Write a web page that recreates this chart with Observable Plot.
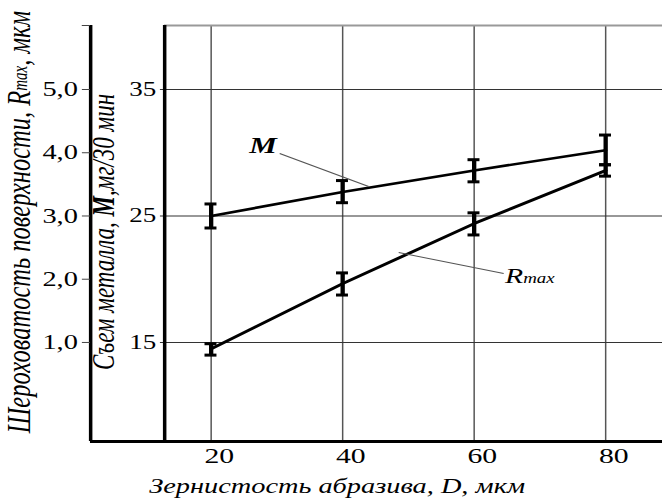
<!DOCTYPE html>
<html><head><meta charset="utf-8">
<script src="https://cdn.jsdelivr.net/npm/d3@7"></script>
<script src="https://cdn.jsdelivr.net/npm/@observablehq/plot@0.6"></script>
<style>html,body{margin:0;padding:0;background:#fff;overflow:hidden}</style>
</head><body><div id="chart"></div>
<script>
// ---- data ----
const grainSizes = [20, 40, 60, 80];                 // D, мкм
const removal = [25.0, 26.9, 28.6, 30.2];            // M, мг/30 мин
const removalLow = [24.05, 26.05, 27.7, 29.05];
const removalHigh = [25.95, 27.8, 29.45, 31.4];
const roughness = [0.9, 1.93, 2.88, 3.72];           // Rmax, мкм
const roughnessLow = [0.8, 1.75, 2.7, 3.63];
const roughnessHigh = [0.98, 2.1, 3.05, 3.81];
const xTicks = [20, 40, 60, 80];
const removalTicks = [15, 25, 35];
const roughnessTicks = [1, 2, 3, 4, 5];

// Rmax axis is aligned with M axis: R=1 <-> M=15, R=5 <-> M=35
const rToM = r => 15 + 5 * (r - 1);
const mToR = m => 1 + (m - 15) / 5;

// scale extents / layout
const xDomain = [1.673, 88.67];
const yDomain = [7.17, 40.06];
const innerAxisAt = 12.93;
const capHalf = 0.91;
const W = 490, H = 500, OUT_W = 662;
const serif = "'Liberation Serif','Times New Roman',serif";

const removalRows = grainSizes.map((x, i) => ({x, y: removal[i], lo: removalLow[i], hi: removalHigh[i]}));
const roughRows = grainSizes.map((x, i) => ({x, y: rToM(roughness[i]), lo: rToM(roughnessLow[i]), hi: rToM(roughnessHigh[i])}));
const errRows = removalRows.concat(roughRows);

const leaders = [
  {x1: 30.42, y1: 29.94, x2: 43.95, y2: 27.33},
  {x1: 48.52, y1: 22.11, x2: 64.49, y2: 20.45}
];

const fmtR = m => d3.format(".1f")(mToR(m)).replace(".", ",");

const plot = Plot.plot({
  width: W, height: H,
  marginLeft: 66.6, marginRight: 0, marginTop: 25, marginBottom: 59,
  style: {fontFamily: serif, background: "#fff", color: "#000", overflow: "visible"},
  x: {domain: xDomain, axis: null},
  y: {domain: yDomain, axis: null},
  marks: [
    Plot.ruleX(xTicks, {stroke: "#555", strokeWidth: 1.1}),
    Plot.ruleY(removalTicks, {x1: innerAxisAt - 0.62, x2: xDomain[1], stroke: "#333", strokeWidth: 1}),
    Plot.ruleY([yDomain[1]], {x1: innerAxisAt, x2: xDomain[1], stroke: "#999", strokeWidth: 2}),
    Plot.ruleY([yDomain[0]], {stroke: "#000", strokeWidth: 3}),
    Plot.ruleX([xDomain[0]], {stroke: "#000", strokeWidth: 2.6}),
    Plot.ruleX([innerAxisAt], {stroke: "#000", strokeWidth: 2.6}),
    Plot.ruleY([yDomain[1]], {x1: xDomain[0] - 1.25, x2: xDomain[0], stroke: "#444", strokeWidth: 1}),
    Plot.axisY(roughnessTicks.map(rToM), {anchor: "left", tickSize: 6, tickPadding: 3.5, tickFormat: fmtR, fontSize: 21, stroke: "#444"}),
    Plot.text(removalTicks, {x: innerAxisAt, y: d => d, text: d => String(d), textAnchor: "end", dx: -6.3, fontSize: 20}),
    Plot.axisX(xTicks, {tickSize: 0, tickPadding: 6, fontSize: 22, dx: 6}),
    Plot.line(removalRows, {x: "x", y: "y", stroke: "#000", strokeWidth: 2.6}),
    Plot.line(roughRows, {x: "x", y: "y", stroke: "#000", strokeWidth: 2.8}),
    Plot.ruleX(errRows, {x: "x", y1: "lo", y2: "hi", stroke: "#000", strokeWidth: 3.2}),
    Plot.ruleY(errRows, {y: "lo", x1: d => d.x - capHalf, x2: d => d.x + capHalf, stroke: "#000", strokeWidth: 3}),
    Plot.ruleY(errRows, {y: "hi", x1: d => d.x - capHalf, x2: d => d.x + capHalf, stroke: "#000", strokeWidth: 3}),
    Plot.link(leaders, {x1: "x1", y1: "y1", x2: "x2", y2: "y2", stroke: "#555", strokeWidth: 1})
  ]
});

const sx = plot.scale("x"), sy = plot.scale("y");
const svg = d3.select(plot);

// line labels
svg.append("text")
  .attr("x", sx.apply(30.11)).attr("y", sy.apply(29.94))
  .attr("text-anchor", "end").attr("font-size", 23)
  .style("font-style", "italic").style("font-weight", "bold").text("M");
const rl = svg.append("text")
  .attr("x", sx.apply(64.79)).attr("y", sy.apply(19.66))
  .attr("text-anchor", "start")
  .attr("font-size", 22).style("font-style", "italic");
rl.append("tspan").text("R");
rl.append("tspan").attr("font-size", 14).text("max");

// axis titles
const t1 = svg.append("text")
  .attr("transform", "translate(16.3,222) rotate(-90)")
  .attr("text-anchor", "middle").attr("dominant-baseline", "middle")
  .attr("font-size", 24.5).style("font-style", "italic");
t1.append("tspan").text("Шероховатость поверхности, R");
t1.append("tspan").attr("font-size", 15).text("max");
t1.append("tspan").text(", мкм");

const t2 = svg.append("text")
  .attr("transform", "translate(79,232) rotate(-90)")
  .attr("text-anchor", "middle").attr("dominant-baseline", "middle")
  .attr("font-size", 23).style("font-style", "italic");
t2.append("tspan").text("Съем металла, ");
t2.append("tspan").style("font-weight", "bold").text("M");
t2.append("tspan").text(",мг/30 мин");

svg.append("text")
  .attr("x", 249.5).attr("y", 493)
  .attr("text-anchor", "middle").attr("font-size", 21)
  .style("font-style", "italic").text("Зернистость абразива, D, мкм");

// horizontal stretch to match the reference's aspect
plot.setAttribute("width", OUT_W);
plot.setAttribute("height", H);
plot.setAttribute("preserveAspectRatio", "none");
plot.style.width = OUT_W + "px";
plot.style.height = H + "px";
plot.style.maxWidth = "none";
plot.style.display = "block";
document.getElementById("chart").appendChild(plot);
</script>
</body></html>
